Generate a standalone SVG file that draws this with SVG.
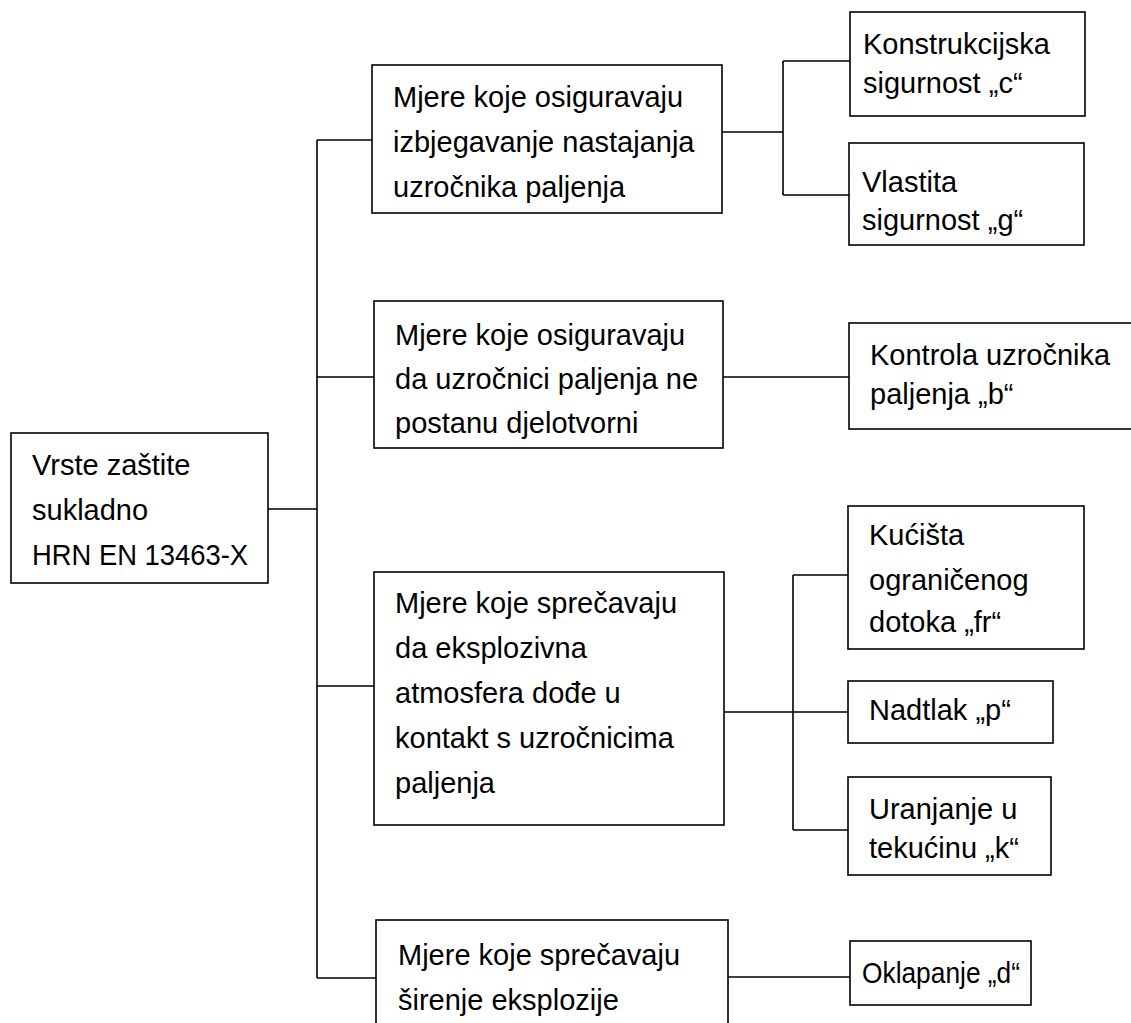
<svg xmlns="http://www.w3.org/2000/svg" width="1131" height="1023" viewBox="0 0 1131 1023">
<style>
.box{fill:#fff;stroke:#000;stroke-width:1.6}
.ln{fill:none;stroke:#000;stroke-width:1.6}
text{font-family:"Liberation Sans",Arial,sans-serif;font-size:29px;fill:#000}
</style>
<rect width="1131" height="1023" fill="#fff"/>
<g id="connectors">
<path class="ln" d="M268 509H317M317 140V978M317 140H372M317 377H374M317 686H374M317 978H376"/>
<path class="ln" d="M722 132H783M783 61V195M783 61H850M783 195H849"/>
<path class="ln" d="M723 377H849"/>
<path class="ln" d="M724 712H848M793 575V830M793 575H848M793 830H848"/>
<path class="ln" d="M728 977H850"/>
</g>
<g id="root"><rect class="box" x="11" y="433" width="257" height="150"/>
<text x="32" y="475">Vrste zaštite</text><text x="32" y="520">sukladno</text><text x="32" y="565" textLength="216" lengthAdjust="spacingAndGlyphs">HRN EN 13463-X</text></g>
<g id="m1"><rect class="box" x="372" y="65" width="350" height="148"/>
<text x="393" y="107">Mjere koje osiguravaju</text><text x="393" y="152">izbjegavanje nastajanja</text><text x="393" y="197">uzročnika paljenja</text></g>
<g id="m2"><rect class="box" x="374" y="301" width="349" height="147"/>
<text x="395" y="345">Mjere koje osiguravaju</text><text x="395" y="389">da uzročnici paljenja ne</text><text x="395" y="433">postanu djelotvorni</text></g>
<g id="m3"><rect class="box" x="374" y="572" width="350" height="253"/>
<text x="395" y="613">Mjere koje sprečavaju</text><text x="395" y="658">da eksplozivna</text><text x="395" y="703">atmosfera dođe u</text><text x="395" y="748">kontakt s uzročnicima</text><text x="395" y="793">paljenja</text></g>
<g id="m4"><rect class="box" x="376" y="920" width="352" height="130"/>
<text x="398" y="965">Mjere koje sprečavaju</text><text x="398" y="1010">širenje eksplozije</text></g>
<g id="c"><rect class="box" x="850" y="12" width="235" height="104"/>
<text x="863" y="54">Konstrukcijska</text><text x="863" y="93">sigurnost „c“</text></g>
<g id="g"><rect class="box" x="849" y="143" width="235" height="102"/>
<text x="862" y="192">Vlastita</text><text x="862" y="230">sigurnost „g“</text></g>
<g id="b"><rect class="box" x="849" y="323" width="300" height="106"/>
<text x="870" y="365">Kontrola uzročnika</text><text x="870" y="404">paljenja „b“</text></g>
<g id="fr"><rect class="box" x="848" y="506" width="236" height="143"/>
<text x="869" y="545">Kućišta</text><text x="869" y="590">ograničenog</text><text x="869" y="632">dotoka „fr“</text></g>
<g id="p"><rect class="box" x="848" y="681" width="205" height="62"/>
<text x="869" y="720">Nadtlak „p“</text></g>
<g id="k"><rect class="box" x="848" y="777" width="203" height="98"/>
<text x="869" y="819">Uranjanje u</text><text x="869" y="858">tekućinu „k“</text></g>
<g id="d"><rect class="box" x="850" y="941" width="181" height="64"/>
<text x="862" y="983" textLength="158" lengthAdjust="spacingAndGlyphs">Oklapanje „d“</text></g>
</svg>
